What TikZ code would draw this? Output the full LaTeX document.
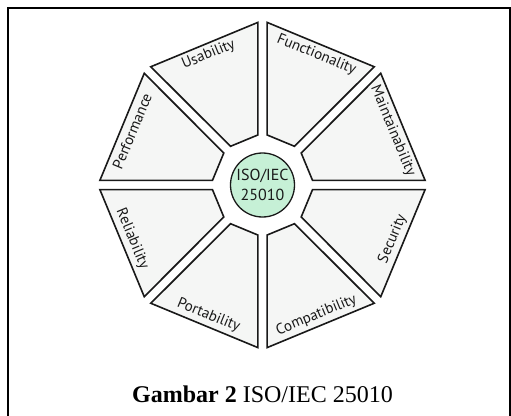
\documentclass[tikz,border=0pt]{standalone}
\usepackage{fontspec}
\setmainfont{Liberation Serif}
\newfontfamily\lblfont{PT Sans}
\definecolor{wedgefill}{RGB}{245,246,245}
\definecolor{hubfill}{RGB}{198,240,214}
\definecolor{inkc}{RGB}{25,25,25}
\begin{document}
\begin{tikzpicture}[x=1pt,y=1pt,
  wedgebox/.style={draw=inkc, line width=1.6pt, fill=wedgefill, line join=miter},
  lbl/.style={font=\lblfont\fontsize{15}{17}\selectfont, text=inkc, inner sep=0pt},
  hubstyle/.style={circle, draw=inkc, line width=1.3pt, fill=hubfill, minimum size=64pt, inner sep=0pt, align=center, text=inkc, font=\lblfont\fontsize{16}{20}\selectfont},
  framestyle/.style={draw=black, line width=1.8pt}]
\useasboundingbox (-262.5,-230) rectangle (248.5,185);
\draw[framestyle] (-254.5,-240) -- (-254.5,177) -- (247.5,177) -- (247.5,-240);
\foreach \k/\txt in {0/Maintainability,1/Functionality,2/Usability,3/Performance,4/Reliability,5/Portability,6/Compatibility,7/Security}{
  \pgfmathsetmacro\th{22.5+45*\k}
  \pgfmathsetmacro\rot{\k<4 ? \th-90 : \th-270}
  \draw[wedgebox, rotate=\th] (48,-14.8) -- (152,-57.9) -- (152,57.9) -- (48,14.8) -- cycle;
  \node[lbl, rotate=\rot] (w\k) at (\th:141) {\txt};
}
\node[hubstyle] (hub) at (0,0) {ISO/IEC\\25010};
\node[anchor=base, inner sep=0pt] (cap) at (0,-217) {\fontsize{24}{27}\selectfont\textbf{Gambar 2} ISO/IEC 25010};
\end{tikzpicture}
\end{document}
